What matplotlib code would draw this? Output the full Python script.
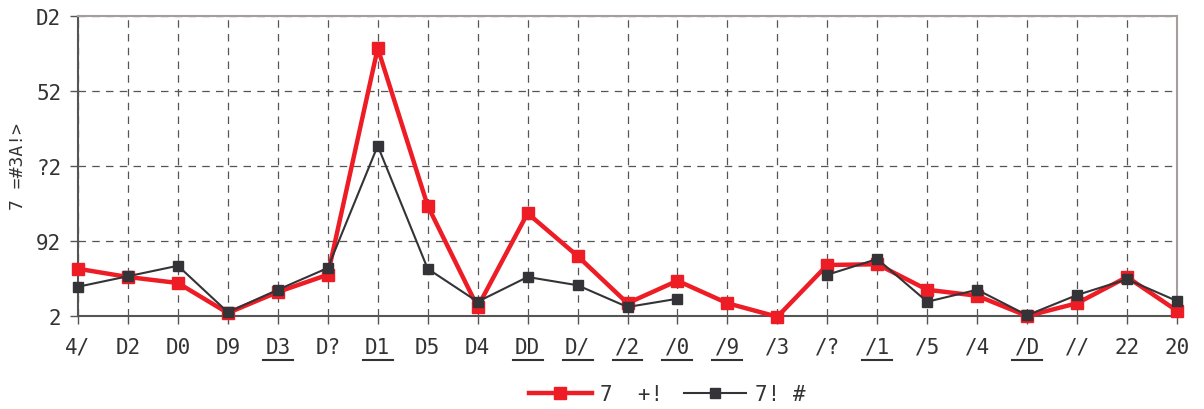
import numpy as np
import matplotlib
matplotlib.use("Agg")
import matplotlib.pyplot as plt
from matplotlib.lines import Line2D

plt.rcParams['font.family'] = ['DejaVu Sans Mono', 'DejaVu Sans']

# categories (as shown in the chart)
categories = ["4/", "D2", "D0", "D9", "D3", "D?", "D1", "D5", "D4", "DD", "D/",
              "/2", "/0", "/9", "/3", "/?", "/1", "/5", "/4", "/D", "//", "22", "20"]
underlined = [False, False, False, False, True, False, True, False, False, True, True,
              True, True, True, False, False, True, False, False, True, False, False, False]

# series values
red_values = [6.3, 5.2, 4.4, 0.4, 3.2, 5.5, 35.7, 14.7, 1.2, 13.7, 8.0,
              1.7, 4.7, 1.7, -0.1, 6.8, 6.9, 3.5, 2.7, 0.0, 1.7, 5.2, 0.7]
black_values = [3.9, 5.3, 6.7, 0.5, 3.5, 6.4, 22.7, 6.3, 1.9, 5.2, 4.1,
                1.2, 2.3, np.nan, np.nan, 5.5, 7.6, 1.9, 3.5, 0.1, 2.8, 4.9, 2.0]

y_ticks = [0, 10, 20, 30, 40]
y_tick_labels = ["2", "92", "?2", "52", "D2"]
y_label = "7 =#3A!>"
red_name = "7  +!"
black_name = "7! #"

red = "#ee1c25"
dark = "#333338"
txt = "#333333"

fig = plt.figure(figsize=(12.04, 4.10), dpi=100)
ax = fig.add_axes([78 / 1204, 1 - 317 / 410, (1177 - 78) / 1204, 300 / 410])

x = np.arange(len(categories))
ax.plot(x, red_values, color=red, lw=3.2, marker="s", ms=8, mec=red, mfc=red,
        label=red_name, zorder=3, clip_on=False)
ax.plot(x, black_values, color=dark, lw=1.5, marker="s", ms=7, mec=dark, mfc=dark,
        label=black_name, zorder=4, clip_on=False)

ax.set_xlim(0, len(categories) - 1)
ax.set_ylim(0, 40)
ax.set_yticks(y_ticks)
ax.set_yticklabels(y_tick_labels)
ax.set_xticks(x)
ax.set_xticklabels(categories)

ax.grid(True, color="#555555", ls=(0, (6, 5)), lw=0.9)
ax.set_axisbelow(True)
for s in ["left", "bottom"]:
    ax.spines[s].set_color("#555555")
    ax.spines[s].set_linewidth(1.5)
for s in ["top", "right"]:
    ax.spines[s].set_color("#a59e9c")
    ax.spines[s].set_linewidth(1.5)

ax.tick_params(axis="both", colors="#555555", labelcolor=txt, labelsize=15,
               length=6, width=1)
ax.tick_params(axis="x", pad=9)
ax.tick_params(axis="y", pad=6)

ax.set_ylabel(y_label, fontsize=13, color=txt)
ax.yaxis.set_label_coords(-0.046, 0.5)

# underlines below some category labels
for i, u in enumerate(underlined):
    if u:
        ln = Line2D([i - 0.3, i + 0.3], [-0.147, -0.147], color=txt, lw=1.5,
                    transform=ax.get_xaxis_transform(), clip_on=False)
        ax.add_line(ln)

ax.legend(loc="center", bbox_to_anchor=(0.536, -0.26), ncol=2, frameon=False,
          fontsize=15, handlelength=3, handletextpad=0.4, columnspacing=1.0,
          labelcolor=txt)

fig.savefig("out.png", dpi=100)
